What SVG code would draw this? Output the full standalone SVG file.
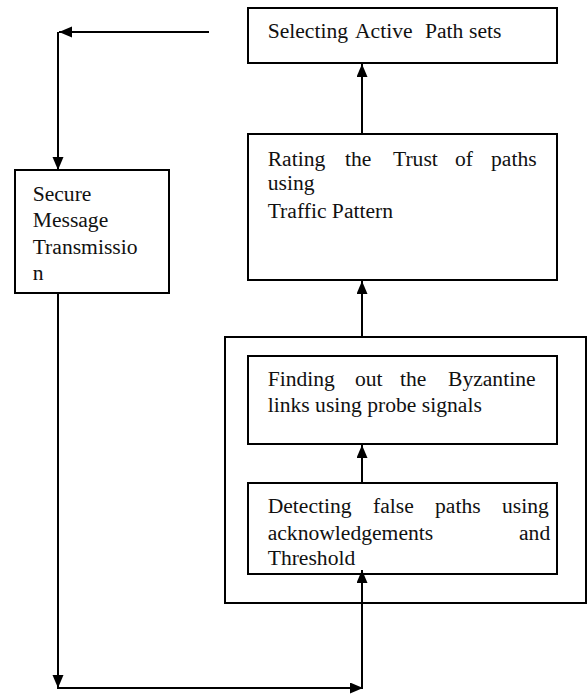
<svg xmlns="http://www.w3.org/2000/svg" width="588" height="695" viewBox="0 0 588 695">
<style>
.box{fill:#fff;stroke:#000;stroke-width:2}
.ln{fill:none;stroke:#000;stroke-width:2}
.t{font-family:'Liberation Serif','Times New Roman',serif;font-size:21.6px;fill:#111}
</style>
<defs>
<marker id="ah" markerUnits="userSpaceOnUse" markerWidth="14" markerHeight="12" refX="13" refY="5.5" orient="auto">
<path d="M0,0 L13,5.5 L0,11 z" fill="#000"/>
</marker>
</defs>
<rect width="588" height="695" fill="#fff"/>
<g id="group-outer"><rect class="box" x="225" y="337" width="361" height="266" fill="none"/></g>
<g id="node-select">
<rect class="box" x="248" y="8" width="309" height="55"/>
<text class="t" y="38"><tspan x="267.7">Selecting</tspan><tspan x="355">Active</tspan><tspan x="425">Path</tspan><tspan x="469">sets</tspan></text>
</g>
<g id="node-rating">
<rect class="box" x="248" y="134" width="309" height="146"/>
<text class="t" y="166"><tspan x="267.7">Rating</tspan><tspan x="345">the</tspan><tspan x="393">Trust</tspan><tspan x="455">of</tspan><tspan x="491">paths</tspan></text>
<text class="t" x="267.7" y="190">using</text>
<text class="t" x="267.7" y="218">Traffic Pattern</text>
</g>
<g id="node-secure">
<rect class="box" x="15" y="170" width="154" height="123"/>
<text class="t" x="32.7" y="201">Secure</text>
<text class="t" x="32.7" y="227">Message</text>
<text class="t" x="32.7" y="254">Transmissio</text>
<text class="t" x="32.7" y="280">n</text>
</g>
<g id="node-finding">
<rect class="box" x="248" y="356" width="309" height="88"/>
<text class="t" y="386"><tspan x="267.7">Finding</tspan><tspan x="355">out</tspan><tspan x="400">the</tspan><tspan x="448">Byzantine</tspan></text>
<text class="t" x="267.7" y="412">links using probe signals</text>
</g>
<g id="node-detect">
<rect class="box" x="248" y="483" width="309" height="91"/>
<text class="t" y="513"><tspan x="267.7">Detecting</tspan><tspan x="373">false</tspan><tspan x="435">paths</tspan><tspan x="502">using</tspan></text>
<text class="t" y="540"><tspan x="267.7">acknowledgements</tspan><tspan x="519">and</tspan></text>
<text class="t" x="267.7" y="565">Threshold</text>
</g>
<g id="connectors">
<path class="ln" d="M362,134 L362,64" marker-end="url(#ah)"/>
<path class="ln" d="M362,337 L362,281" marker-end="url(#ah)"/>
<path class="ln" d="M362,483 L362,445" marker-end="url(#ah)"/>
<path class="ln" d="M362,688 L362,570" marker-end="url(#ah)"/>
<path class="ln" d="M209,32 L59,32" marker-end="url(#ah)"/>
<path class="ln" d="M58,32 L58,170" marker-end="url(#ah)"/>
<path class="ln" d="M58,293 L58,688" marker-end="url(#ah)"/>
<path class="ln" d="M57,688 L363,688" marker-end="url(#ah)"/>
</g>
</svg>
